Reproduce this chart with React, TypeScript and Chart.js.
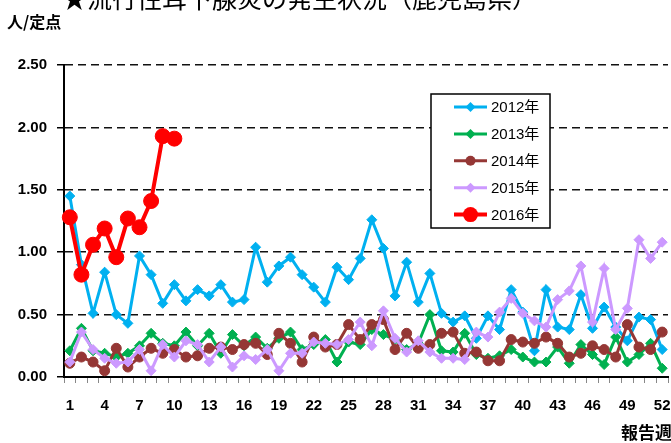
import React, { useEffect, useRef } from 'react';
import { Chart, registerables } from 'chart.js';

Chart.register(...registerables);

const weeks = ['1','2','3','4','5','6','7','8','9','10','11','12','13','14','15','16','17','18','19','20','21','22','23','24','25','26','27','28','29','30','31','32','33','34','35','36','37','38','39','40','41','42','43','44','45','46','47','48','49','50','51','52'];

const y2012 = [1.45,0.90,0.51,0.84,0.50,0.43,0.97,0.82,0.59,0.74,0.61,0.70,0.65,0.74,0.60,0.62,1.04,0.76,0.89,0.96,0.82,0.72,0.60,0.88,0.78,0.95,1.26,1.03,0.65,0.92,0.60,0.83,0.51,0.44,0.49,0.31,0.49,0.38,0.70,0.52,0.21,0.70,0.40,0.38,0.66,0.39,0.56,0.40,0.29,0.48,0.46,0.22];
const y2013 = [0.21,0.39,0.21,0.19,0.16,0.19,0.25,0.35,0.27,0.25,0.36,0.25,0.35,0.19,0.34,0.25,0.32,0.23,0.31,0.36,0.22,0.26,0.30,0.12,0.28,0.26,0.38,0.34,0.30,0.22,0.27,0.50,0.21,0.20,0.35,0.18,0.15,0.17,0.22,0.16,0.12,0.12,0.24,0.11,0.26,0.18,0.10,0.32,0.12,0.18,0.27,0.07];
const y2014 = [0.11,0.16,0.12,0.05,0.23,0.08,0.16,0.23,0.19,0.22,0.16,0.17,0.23,0.24,0.22,0.26,0.27,0.18,0.35,0.27,0.12,0.32,0.24,0.26,0.42,0.30,0.42,0.46,0.22,0.35,0.23,0.26,0.35,0.36,0.19,0.20,0.13,0.13,0.30,0.28,0.27,0.32,0.27,0.16,0.19,0.25,0.22,0.16,0.42,0.24,0.22,0.36];
const y2015 = [0.12,0.36,0.22,0.15,0.11,0.12,0.22,0.05,0.26,0.16,0.29,0.26,0.12,0.24,0.08,0.17,0.14,0.22,0.05,0.19,0.19,0.28,0.27,0.26,0.30,0.44,0.25,0.53,0.31,0.20,0.29,0.20,0.15,0.15,0.14,0.36,0.32,0.52,0.63,0.51,0.45,0.40,0.62,0.69,0.89,0.44,0.87,0.38,0.55,1.10,0.95,1.08];
const y2016 = [1.28,0.82,1.06,1.19,0.96,1.27,1.20,1.41,1.93,1.91];

const seriesNames = ['2012年','2013年','2014年','2015年','2016年'];
const yTicks = [0, 0.5, 1.0, 1.5, 2.0, 2.5];

const titleText = '★流行性耳下腺炎の発生状況（鹿児島県）';
const yAxisTitle = '人/定点';
const xAxisTitle = '報告週';

const COLORS = ['#00B0F0', '#00B050', '#953735', '#CC99FF', '#FF0000'];
const SHAPES = ['rectRot', 'rectRot', 'circle', 'rectRot', 'circle'];
const RADII = [5, 5, 5, 5, 7.5];
const WIDTHS = [3, 3, 3, 3, 4];

const FONT = '"Liberation Sans", "Noto Sans CJK JP", sans-serif';
const CJK = '"Noto Sans CJK JP", "Liberation Sans", sans-serif';

const decorPlugin = {
  id: 'decor',
  afterDraw(chart: any) {
    const ctx = chart.ctx;
    ctx.save();
    // Title (partially cut off at the top)
    ctx.fillStyle = '#000';
    ctx.font = `25px ${CJK}`;
    ctx.textAlign = 'left';
    ctx.textBaseline = 'alphabetic';
    ctx.fillText(titleText, 62, 8);
    // y axis unit
    ctx.font = `bold 16px ${CJK}`;
    ctx.textBaseline = 'middle';
    ctx.fillText(yAxisTitle, 7, 22);
    // x axis title
    ctx.font = `bold 17px ${CJK}`;
    ctx.fillText(xAxisTitle, 621, 433);

    // Legend
    const bx = 431, by = 94, bw = 119, bh = 134;
    ctx.fillStyle = '#fff';
    ctx.fillRect(bx, by, bw, bh);
    ctx.strokeStyle = '#000';
    ctx.lineWidth = 1.5;
    ctx.strokeRect(bx, by, bw, bh);
    for (let i = 0; i < seriesNames.length; i++) {
      const cy = 107 + i * 26.9;
      ctx.strokeStyle = COLORS[i];
      ctx.lineWidth = WIDTHS[i];
      ctx.beginPath();
      ctx.moveTo(454, cy);
      ctx.lineTo(487, cy);
      ctx.stroke();
      ctx.fillStyle = COLORS[i];
      const r = RADII[i];
      ctx.beginPath();
      if (SHAPES[i] === 'circle') {
        ctx.arc(470.5, cy, r, 0, Math.PI * 2);
      } else {
        ctx.moveTo(470.5, cy - r);
        ctx.lineTo(470.5 + r, cy);
        ctx.lineTo(470.5, cy + r);
        ctx.lineTo(470.5 - r, cy);
        ctx.closePath();
      }
      ctx.fill();
      ctx.fillStyle = '#000';
      ctx.font = `15px ${FONT}`;
      ctx.textBaseline = 'middle';
      ctx.fillText(seriesNames[i], 491, cy + 1);
    }
    ctx.restore();
  },
};

export default function App() {
  const ref = useRef<HTMLCanvasElement | null>(null);

  useEffect(() => {
    if (!ref.current) return;
    const all = [y2012, y2013, y2014, y2015, y2016];
    const datasets = all.map((d, i) => ({
      label: seriesNames[i],
      data: d,
      borderColor: COLORS[i],
      backgroundColor: COLORS[i],
      borderWidth: WIDTHS[i],
      pointStyle: SHAPES[i],
      pointRadius: RADII[i],
      pointBorderWidth: 1,
      pointBorderColor: COLORS[i],
      pointBackgroundColor: COLORS[i],
      tension: 0,
      fill: false,
      order: 5 - i,
    }));
    const chart = new Chart(ref.current, {
      type: 'line',
      data: { labels: weeks, datasets },
      plugins: [decorPlugin],
      options: {
        animation: false,
        responsive: false,
        layout: { autoPadding: false, padding: { top: 65, right: 3, left: 0, bottom: 0 } },
        plugins: {
          legend: { display: false },
          tooltip: { enabled: false },
          title: { display: false },
        },
        scales: {
          x: {
            type: 'category',
            offset: true,
            grid: {
              offset: true,
              drawOnChartArea: false,
              drawTicks: true,
              tickLength: 6,
              tickColor: '#888',
              tickWidth: 1,
            },
            border: { display: true, color: '#000', width: 2 },
            ticks: {
              autoSkip: false,
              maxRotation: 0,
              minRotation: 0,
              padding: 14,
              color: '#000',
              font: { family: FONT, size: 15, weight: 'bold' },
              callback: (_v: any, i: number) => (i % 3 === 0 ? weeks[i] : ''),
            },
            afterFit: (s: any) => { s.height = 66; s.paddingLeft = 0; s.paddingRight = 0; },
          },
          y: {
            min: yTicks[0],
            max: yTicks[yTicks.length - 1],
            afterBuildTicks: (s: any) => { s.ticks = yTicks.map((v) => ({ value: v })); },
            ticks: {
              padding: 10,
              color: '#000',
              font: { family: FONT, size: 15, weight: 'bold' },
              callback: (v: any) => Number(v).toFixed(2),
            },
            grid: {
              color: '#111',
              lineWidth: 1.5,
              tickColor: '#000',
              tickLength: 7,
              tickWidth: 1.5,
            },
            border: { display: true, color: '#000', width: 2, dash: [8, 5] },
            afterFit: (s: any) => { s.width = 64; },
          },
        },
      },
    } as any);
    return () => chart.destroy();
  }, []);

  return (
    <div style={{ position: 'fixed', left: 0, top: 0, width: 671, height: 443, background: '#fff' }}>
      <canvas ref={ref} width={671} height={443} style={{ display: 'block', width: 671, height: 443 }} />
    </div>
  );
}
